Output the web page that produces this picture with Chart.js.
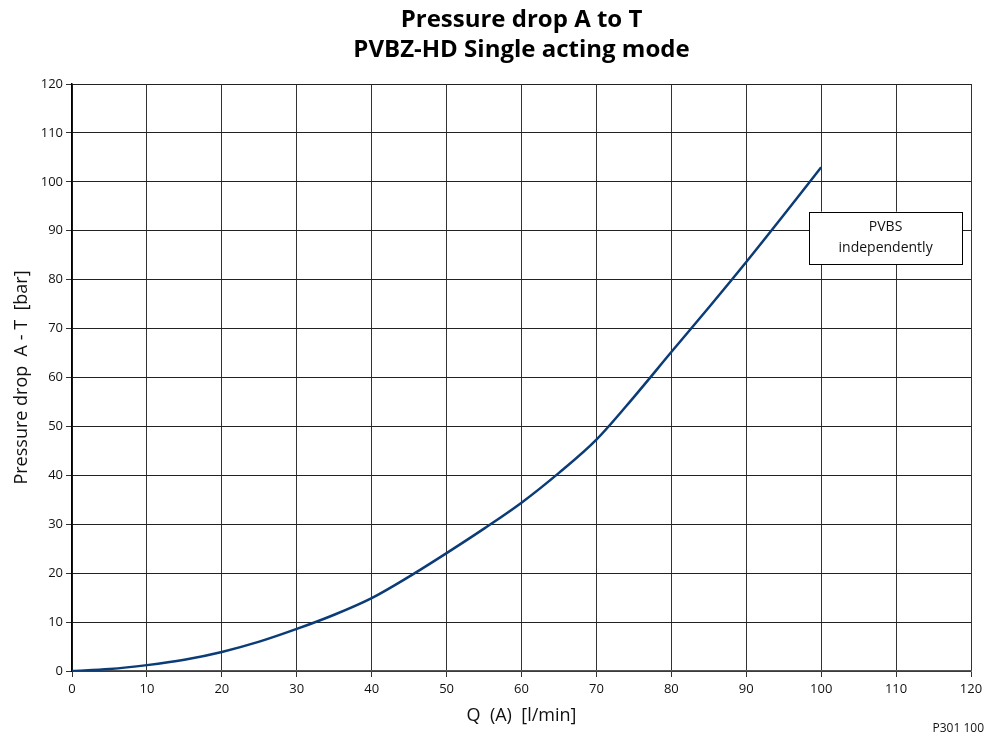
<!DOCTYPE html>
<html>
<head>
<meta charset="utf-8">
<script src="https://cdn.jsdelivr.net/npm/chart.js@4.4.1/dist/chart.umd.min.js"></script>
<style>
  html, body { margin: 0; padding: 0; background: #fff; }
  #wrap { width: 990px; height: 738px; }
</style>
</head>
<body>
<div id="wrap"><canvas id="chart"></canvas></div>
<script>
// Dados
const flowQ = [0, 5, 10, 15, 20, 25, 30, 35, 40, 45, 50, 55, 60, 65, 70, 75, 80, 85, 90, 95, 100];
const pressureDrop = [0, 0.4, 1.2, 2.3, 3.9, 6.0, 8.6, 11.5, 14.9, 19.3, 24.1, 29.1, 34.4, 40.5, 47.3, 56.0, 65.2, 74.3, 83.6, 93.2, 103];
const titleLines = ['Pressure drop A to T', 'PVBZ-HD Single acting mode'];
const noteLines = ['PVBS', 'independently'];
const footNote = 'P301 100';

const FONT = "'Open Sans', 'DejaVu Sans', sans-serif";

// Caixa de texto e rodapé
const extrasPlugin = {
    id: 'extras',
    afterDatasetsDraw(chart) {
        const ctx = chart.ctx;
        const xs = chart.scales.x, ys = chart.scales.y;
        const x1 = xs.getPixelForValue(98.4), x2 = xs.getPixelForValue(118.8);
        const y1 = ys.getPixelForValue(93.9), y2 = ys.getPixelForValue(83.2);
        ctx.save();
        ctx.fillStyle = '#fff';
        ctx.fillRect(x1, y1, x2 - x1, y2 - y1);
        ctx.strokeStyle = '#000';
        ctx.lineWidth = 1;
        ctx.strokeRect(Math.round(x1) + 0.5, Math.round(y1) + 0.5, Math.round(x2 - x1), Math.round(y2 - y1));
        ctx.fillStyle = '#111';
        ctx.font = '14px ' + FONT;
        ctx.textAlign = 'center';
        ctx.textBaseline = 'middle';
        const cx = (x1 + x2) / 2;
        ctx.fillText(noteLines[0], cx, y1 + 15);
        ctx.fillText(noteLines[1], cx, y1 + 36);
        ctx.font = '12px ' + FONT;
        ctx.textAlign = 'right';
        ctx.fillText(footNote, 984, 729);
        ctx.restore();
    }
};

new Chart(document.getElementById('chart'), {
    type: 'line',
    data: {
        datasets: [{
            data: flowQ.map((q, i) => ({ x: q, y: pressureDrop[i] })),
            borderColor: '#0b3c78',
            borderWidth: 2.5,
            pointRadius: 0,
            cubicInterpolationMode: 'monotone',
            fill: false
        }]
    },
    options: {
        responsive: true,
        maintainAspectRatio: false,
        animation: false,
        layout: { padding: { left: 0, right: 19, top: 0, bottom: 0 } },
        plugins: {
            legend: { display: false },
            tooltip: { enabled: false },
            title: {
                display: true,
                text: titleLines,
                fullSize: false,
                color: '#000',
                font: { family: FONT, size: 24, weight: 'bold', lineHeight: 1.25 },
                padding: { top: 5, bottom: 19 }
            }
        },
        scales: {
            x: {
                type: 'linear',
                min: 0,
                max: 120,
                afterFit(scale) { scale.height = 67; },
                ticks: { stepSize: 10, color: '#111', font: { family: FONT, size: 13 }, padding: 4 },
                grid: { color: '#333', lineWidth: 1, tickLength: 6, tickColor: '#333' },
                border: { color: '#555', width: 1.5 },
                title: {
                    display: true,
                    text: 'Q  (A)  [l/min]',
                    color: '#111',
                    font: { family: FONT, size: 18 },
                    padding: { top: 0, bottom: 11 }
                }
            },
            y: {
                min: 0,
                max: 120,
                afterFit(scale) { scale.width = 72; },
                ticks: { stepSize: 10, color: '#111', font: { family: FONT, size: 13 }, padding: 3 },
                grid: { color: '#222', lineWidth: 1, tickLength: 6, tickColor: '#333' },
                border: { color: '#000', width: 1.5 },
                title: {
                    display: true,
                    text: 'Pressure drop  A - T  [bar]',
                    color: '#111',
                    font: { family: FONT, size: 18 },
                    padding: { top: 11, bottom: 0 }
                }
            }
        }
    },
    plugins: [extrasPlugin]
});
</script>
</body>
</html>
